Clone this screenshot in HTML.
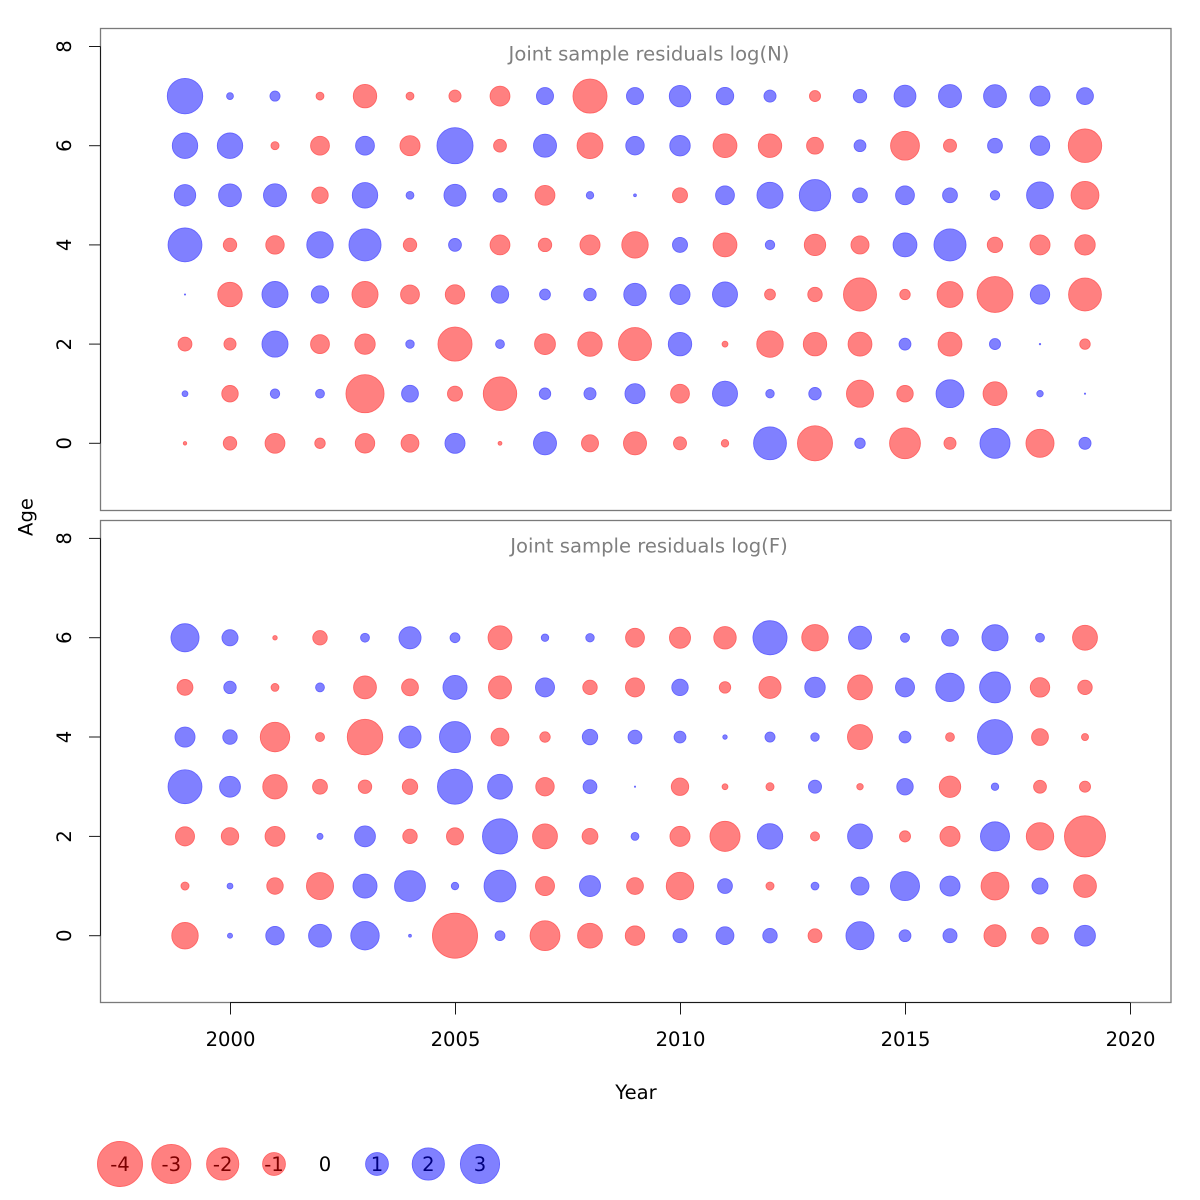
<!DOCTYPE html>
<html>
<head>
<meta charset="utf-8">
<style>
  html, body { margin: 0; padding: 0; background: #ffffff; }
  svg { display: block; }
  text { font-family: "DejaVu Sans", "Liberation Sans", sans-serif; font-size: 19.6px; }
  .box { fill: none; stroke: #7a7a7a; stroke-width: 1.3; }
  .ax { stroke: #1a1a1a; stroke-width: 1; fill: none; }
  .ttl { fill: #7f7f7f; }
  .neg { fill: #ff8080; stroke: #ff6464; stroke-width: 0.9; }
  .pos { fill: #8080ff; stroke: #6464ff; stroke-width: 0.9; }
</style>
</head>
<body>
<svg id="chart" xmlns="http://www.w3.org/2000/svg" width="1200" height="1200" viewBox="0 0 1200 1200">
  <rect x="0" y="0" width="1200" height="1200" fill="#ffffff"/>

  <!-- panel boxes -->
  <rect class="box" x="100.5" y="28.5" width="1070.5" height="482"/>
  <rect class="box" x="100.5" y="520.5" width="1070.5" height="482"/>

  <!-- titles -->
  <text class="ttl" x="649" y="60.5" text-anchor="middle">Joint sample residuals log(N)</text>
  <text class="ttl" x="649" y="552.5" text-anchor="middle">Joint sample residuals log(F)</text>

  <!-- top y axis -->
  <g class="ax">
    <line x1="100.5" y1="46.5" x2="100.5" y2="443.3"/>
    <line x1="89" y1="443.3" x2="100.5" y2="443.3"/>
    <line x1="89" y1="344.1" x2="100.5" y2="344.1"/>
    <line x1="89" y1="244.9" x2="100.5" y2="244.9"/>
    <line x1="89" y1="145.7" x2="100.5" y2="145.7"/>
    <line x1="89" y1="46.5" x2="100.5" y2="46.5"/>
  </g>
  <text transform="translate(71,443.3) rotate(-90)" text-anchor="middle">0</text>
  <text transform="translate(71,344.1) rotate(-90)" text-anchor="middle">2</text>
  <text transform="translate(71,244.9) rotate(-90)" text-anchor="middle">4</text>
  <text transform="translate(71,145.7) rotate(-90)" text-anchor="middle">6</text>
  <text transform="translate(71,46.5) rotate(-90)" text-anchor="middle">8</text>

  <!-- bottom y axis -->
  <g class="ax">
    <line x1="100.5" y1="538.4" x2="100.5" y2="935.7"/>
    <line x1="89" y1="935.7" x2="100.5" y2="935.7"/>
    <line x1="89" y1="836.4" x2="100.5" y2="836.4"/>
    <line x1="89" y1="737.0" x2="100.5" y2="737.0"/>
    <line x1="89" y1="637.7" x2="100.5" y2="637.7"/>
    <line x1="89" y1="538.4" x2="100.5" y2="538.4"/>
  </g>
  <text transform="translate(71,935.7) rotate(-90)" text-anchor="middle">0</text>
  <text transform="translate(71,836.4) rotate(-90)" text-anchor="middle">2</text>
  <text transform="translate(71,737.0) rotate(-90)" text-anchor="middle">4</text>
  <text transform="translate(71,637.7) rotate(-90)" text-anchor="middle">6</text>
  <text transform="translate(71,538.4) rotate(-90)" text-anchor="middle">8</text>

  <!-- x axis -->
  <g class="ax">
    <line x1="230" y1="1002.5" x2="1130" y2="1002.5"/>
    <line x1="230.5" y1="1002.5" x2="230.5" y2="1014.5"/>
    <line x1="455.5" y1="1002.5" x2="455.5" y2="1014.5"/>
    <line x1="680.5" y1="1002.5" x2="680.5" y2="1014.5"/>
    <line x1="905.5" y1="1002.5" x2="905.5" y2="1014.5"/>
    <line x1="1130.5" y1="1002.5" x2="1130.5" y2="1014.5"/>
  </g>
  <text x="230.5" y="1046" text-anchor="middle">2000</text>
  <text x="455.5" y="1046" text-anchor="middle">2005</text>
  <text x="680.5" y="1046" text-anchor="middle">2010</text>
  <text x="905.5" y="1046" text-anchor="middle">2015</text>
  <text x="1130.5" y="1046" text-anchor="middle">2020</text>

  <!-- axis labels -->
  <text x="636" y="1099" text-anchor="middle">Year</text>
  <text transform="translate(32.5,517) rotate(-90)" text-anchor="middle">Age</text>

  <!-- bubbles -->
  <g id="bubbles"></g>

  <!-- legend -->
  <circle class="neg" cx="120" cy="1164" r="22.5"/>
  <circle class="neg" cx="171.3" cy="1164" r="19.6"/>
  <circle class="neg" cx="222.7" cy="1164" r="16.1"/>
  <circle class="neg" cx="274" cy="1164" r="11.4"/>
  <circle class="pos" cx="377" cy="1164" r="11.4"/>
  <circle class="pos" cx="428.3" cy="1164" r="16.1"/>
  <circle class="pos" cx="480" cy="1164" r="19.6"/>
  <text x="120" y="1171" text-anchor="middle" fill="#7d0000">-4</text>
  <text x="171.3" y="1171" text-anchor="middle" fill="#7d0000">-3</text>
  <text x="222.7" y="1171" text-anchor="middle" fill="#7d0000">-2</text>
  <text x="274" y="1171" text-anchor="middle" fill="#7d0000">-1</text>
  <text x="325" y="1171" text-anchor="middle" fill="#000000">0</text>
  <text x="377" y="1171" text-anchor="middle" fill="#00007d">1</text>
  <text x="428.3" y="1171" text-anchor="middle" fill="#00007d">2</text>
  <text x="480" y="1171" text-anchor="middle" fill="#00007d">3</text>
</svg>

<script>
(function () {
  var NS = "http://www.w3.org/2000/svg";
  var g = document.getElementById("bubbles");
  // signed radii: positive = blue, negative = red; columns 1999..2019
  var top = {
    7: [18, 3.7, 5.3, -4.2, -12, -4.2, -6.3, -10.2, 8.8, -17.3, 8.8, 11, 9, 6.3, -5.8, 7, 11.2, 11.8, 11.7, 10.3, 8.7],
    6: [13, 13, -4.3, -9.7, 9.7, -10.3, 18.3, -6.7, 11.8, -13.2, 9.5, 10.5, -12.2, -12, -8.7, 6.2, -14.7, -6.8, 7.7, 10, -17],
    5: [11, 11.7, 11.8, -8.5, 13, 4.2, 11.3, 7.2, -10.2, 4, 1.7, -7.8, 9.7, 13.3, 16, 7.7, 9.7, 7.7, 5, 13.7, -14.2],
    4: [17.2, -7, -9.5, 13.5, 16.3, -7, 6.7, -10.2, -7, -10.3, -13.5, 7.8, -12.2, 5, -11, -9.3, 12.2, 16.3, -8, -10.3, -10.5],
    3: [0.7, -12.5, 13.3, 9, -13.3, -9.7, -10, 9, 5.7, 6.5, 11.5, 10.3, 12.8, -5.7, -7.5, -16.8, -5.5, -13.2, -18.2, 10, -16.7],
    2: [-7.2, -6.3, 13.3, -9.7, -10.5, 4.5, -17.3, 4.7, -10.7, -12.5, -16.8, 12, -3.2, -13.5, -12, -12.2, 6.2, -12.2, 5.8, 1, -5.5],
    1: [3.2, -8.5, 5, 4.7, -19.3, 8.7, -7.8, -17, 6, 6.3, 10.3, -9.7, 12.8, 4.5, 6.5, -13.8, -8.5, 14.2, -12.2, 3.5, 0.8],
    0: [-2, -7, -10.2, -5.5, -10, -9.2, 10.3, -2.2, 11.8, -8.8, -11.8, -6.8, -4, 16.7, -17.8, 5.5, -15.7, -6.3, 15.3, -14.3, 6.3]
  };
  var bot = {
    6: [14.3, 8.3, -2.5, -7.5, 4.7, 11.3, 5.2, -12.2, 4, 4.5, -9.7, -10.8, -11.5, 17.3, -13.5, 11.8, 4.8, 8.7, 13.3, 4.7, -12.7],
    5: [-8.2, 6.5, -4.2, 4.7, -11.7, -8.7, 12.3, -11.8, 9.8, -7.5, -9.8, 8.5, -6, -11.3, 10.5, -12.7, 9.8, 14.5, 15.7, -10, -7.5],
    4: [10.3, 7.5, -15, -4.8, -18, 11.3, 15.8, -9.2, -5.5, 8, 7.2, 6.2, 2.5, 5.3, 4.5, -12.8, 6.2, -4.7, 17.8, -8.7, -3.8],
    3: [17.2, 10.7, -12.5, -7.7, -7, -8, 17.8, 12.7, -9.5, 7.2, 0.8, -9, -3.2, -4.3, 6.8, -3.5, 8.5, -11, 4, -6.7, -5.8],
    2: [-9.8, -9, -10.2, 3.3, 10.7, -7.5, -8.8, 17.8, -12.7, -8.2, 4.2, -10.3, -15.3, 13, -4.8, 12.7, -5.8, -10.3, 14.8, -14, -20.8],
    1: [-4.3, 3.2, -8.5, -13.8, 12.3, 15.7, 4, 16.2, -9.8, 10.8, -8.7, -14, 7.7, -4.3, 4.2, 9.3, 14.8, 10.3, -14.2, 8.3, -11.7],
    0: [-13.5, 2.8, 9.5, 11.7, 14.5, 1.7, -22.8, 5.2, -15.2, -12.7, -10, 7.3, 9.2, 7.5, -7.2, 14.3, 6.2, 7.3, -11.3, -8.7, 10.7]
  };
  function draw(data, y0, dy) {
    for (var age in data) {
      var row = data[age];
      var cy = y0 - dy * Number(age);
      for (var i = 0; i < row.length; i++) {
        var v = row[i];
        var r = Math.abs(v) - 0.3;
        if (r < 0.6) r = 0.6;
        var c = document.createElementNS(NS, "circle");
        c.setAttribute("cx", 185 + 45 * i);
        c.setAttribute("cy", cy.toFixed(2));
        c.setAttribute("r", r.toFixed(2));
        c.setAttribute("class", v < 0 ? "neg" : "pos");
        g.appendChild(c);
      }
    }
  }
  draw(top, 443.3, 49.6);
  draw(bot, 935.7, 49.66);
})();
</script>
</body>
</html>
